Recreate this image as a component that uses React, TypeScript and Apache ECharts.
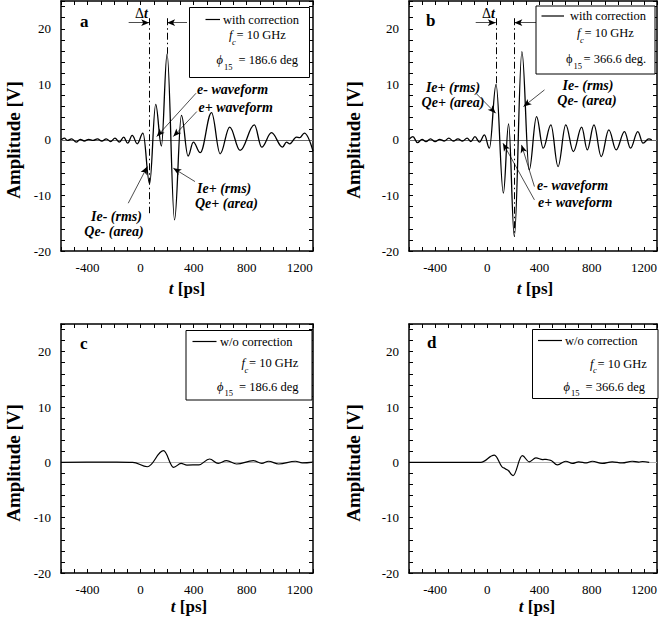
import React, { useEffect, useRef } from "react";
import * as echarts from "echarts";

const FONT = "Liberation Serif";

const xTickLabels = [-400, 0, 400, 800, 1200];
const yTickLabels = [-20, -10, 0, 10, 20];
const X_MIN = -600;
const X_MAX = 1300;
const X_STEP = 100;
const Y_MIN = -20;
const Y_MAX = 25;
const Y_STEP = 2;

// panel a: with correction, phi15 = 186.6 deg  [t (ps), amplitude (V)]
const waveA = [
  [-600, 0], [-575, 0.3], [-550, -0.1], [-520, 0.2], [-485, -0.4], [-455, 0.1], [-424, -0.2],
  [-391, 0.1], [-358, -0.1], [-325, 0.2], [-292, -0.2], [-259, 0.2], [-226, -0.3], [-193, 0.3],
  [-160, -0.4], [-127, 0.5], [-97, -0.6], [-63, 0.8], [-25, -0.7], [18, 1.2], [68, -7.9],
  [114, 6.4], [157, -1.1], [200, 15.5], [256, -14.4], [308, 4.4], [358, -2.9], [398, -0.4],
  [450, -2.3], [535, 4.9], [600, -2.5], [672, 2.3], [750, -1.9], [858, 2.7], [913, -1.3],
  [987, 1.3], [1070, -1.3], [1100, -0.4], [1125, -0.7], [1175, 0.5], [1200, 0.4], [1235, 1.2],
  [1300, -2.0],
];

// panel b: with correction, phi15 = 366.6 deg
const waveB = [
  [-600, 0.1], [-570, 0.6], [-535, -0.5], [-500, 0.1], [-470, -0.3], [-435, 0.2], [-400, -0.3],
  [-365, 0.1], [-330, -0.2], [-295, 0.3], [-260, -0.2], [-225, 0.2], [-190, -0.2], [-155, 0.3],
  [-125, -0.3], [-95, 0.6], [-60, -0.4], [-22, 0.9], [16, -1.5], [67, 10.0], [123, -9.6],
  [163, 2.9], [207, -17.4], [265, 15.9], [321, -5.4], [377, 4.2], [428, -1.5], [487, 2.7],
  [542, -4.8], [601, 2.7], [659, -2.1], [723, 2.3], [766, -1.8], [817, 2.7], [873, -3.0],
  [931, 1.8], [987, -1.8], [1051, 1.5], [1097, -1.5], [1153, 1.5], [1193, -0.6], [1237, 0.2],
  [1260, 0],
];

// panel c: w/o correction, phi15 = 186.6 deg
const waveC = [
  [-600, 0], [-300, 0.05], [-60, 0], [51, -0.8], [173, 2.1], [249, -0.9], [305, -0.2],
  [350, -0.5], [440, -0.45], [520, 0.6], [585, -0.2], [648, 0.3], [724, -0.3], [851, 0.3],
  [914, -0.2], [965, 0.2], [1041, -0.3], [1168, 0.2], [1219, -0.1], [1300, 0.05],
];

// panel d: w/o correction, phi15 = 366.6 deg
const waveD = [
  [-600, 0], [-300, 0], [-50, 0], [54, 1.3], [125, -1.0], [150, -1.3], [197, -2.4], [268, 1.2],
  [321, 0.1], [372, 0.8], [425, 0.5], [450, 0.55], [480, 0.4], [537, -0.45], [601, 0.2],
  [652, -0.2], [700, 0.1], [760, -0.1], [804, 0.2], [880, -0.2], [957, 0.1], [1033, -0.1],
  [1110, 0.2], [1160, 0.05], [1190, 0.15], [1240, 0],
];

// annotation arrows [t0, v0, t1, v1] (arrow head at t1,v1)
const arrowsA = [
  [-90, 21.1, 65, 21.1],
  [350, 21.1, 200, 21.1],
  [418, 8.4, 122, 0.6],
  [424, 5.1, 247, 0.6],
  [410, -7.5, 247, -5.1],
  [-93, -11.4, 51, -4.8],
];
const arrowsB = [
  [-89, 21.1, 65, 21.1],
  [374, 21.1, 207, 21.1],
  [-83, 8.3, 64, 4.8],
  [438, 9.0, 277, 6.0],
  [361, -8.4, 262, -0.9],
  [361, -10.8, 120, -0.6],
];
// dash-dot marker lines [t, vTop, vBottom]
const dashA = [[65, 21.9, -13.2], [200, 21.9, 15.5]];
const dashB = [[65, 21.9, 10.0], [207, 21.9, -17.4]];

const grids = [
  { left: 61, top: 1, width: 252, height: 250 },
  { left: 409, top: 1, width: 249, height: 250 },
  { left: 61, top: 324, width: 252, height: 249 },
  { left: 409, top: 324, width: 249, height: 249 },
];

function txt(x: number, y: number, text: string, o: any = {}) {
  return {
    type: "text",
    x,
    y,
    rotation: o.rotation || 0,
    silent: true,
    z: 10,
    style: {
      text,
      fontFamily: FONT,
      fontSize: o.size || 12.5,
      fontWeight: o.bold ? "bold" : "normal",
      fontStyle: o.italic ? "italic" : "normal",
      fill: "#000",
      align: o.align || "left",
      verticalAlign: "middle",
      rich: o.rich,
    },
  };
}

function legend(
  box: number[],
  line: number[],
  label: string,
  lbl: number[],
  f: number[],
  phi: number[],
  phiText: string,
  phiItalic: boolean
) {
  return [
    {
      type: "rect",
      shape: { x: box[0], y: box[1], width: box[2], height: box[3] },
      style: { fill: "#fff", stroke: "#000", lineWidth: 1 },
      silent: true,
      z: 9,
    },
    {
      type: "line",
      shape: { x1: line[0], y1: line[2], x2: line[1], y2: line[2] },
      style: { stroke: "#000", lineWidth: 1.2 },
      silent: true,
      z: 10,
    },
    txt(lbl[0], lbl[1], label),
    txt(f[0], f[1], "f", { italic: true }),
    txt(f[0] + 3, f[1] + 6.5, "c", { italic: true, size: 8.5 }),
    txt(f[0] + 7.5, f[1], "= 10 GHz"),
    txt(phi[0], phi[1], "\u03D5", { italic: phiItalic }),
    txt(phi[0] + 7.5, phi[1] + 6.5, "15", { size: 8.5 }),
    txt(phi[0] + (phiItalic ? 22 : 17.5), phi[1], phiText),
  ];
}

const richDelta = {
  d: { fontFamily: FONT, fontSize: 14, fontWeight: "normal" },
  t: { fontFamily: FONT, fontSize: 14, fontWeight: "bold", fontStyle: "italic" },
};
const richT = {
  i: { fontFamily: FONT, fontSize: 17, fontWeight: "bold", fontStyle: "italic" },
  n: { fontFamily: FONT, fontSize: 17, fontWeight: "bold" },
};
const ann = { bold: true, italic: true, size: 14 };
const ampOpts = { bold: true, size: 19, align: "center", rotation: Math.PI / 2 };

function App() {
  const ref = useRef<HTMLDivElement>(null);
  useEffect(() => {
    const chart = echarts.init(ref.current!, null, { renderer: "svg" });
    const xAxes: any[] = [];
    const yAxes: any[] = [];
    grids.forEach((_, i) => {
      ["bottom", "top"].forEach((pos) => {
        xAxes.push({
          type: "value",
          gridIndex: i,
          position: pos,
          min: X_MIN,
          max: X_MAX,
          interval: X_STEP,
          axisLine: { show: true, onZero: false, lineStyle: { color: "#000", width: 1.5 } },
          axisTick: { show: true, inside: true, length: 4, lineStyle: { color: "#000", width: 1 } },
          axisLabel: {
            show: pos === "bottom",
            formatter: (v: number) => (xTickLabels.includes(v) ? String(v) : ""),
            color: "#000",
            fontFamily: FONT,
            fontSize: 13,
            margin: 10,
          },
          splitLine: { show: false },
        });
      });
      ["left", "right"].forEach((pos) => {
        yAxes.push({
          type: "value",
          gridIndex: i,
          position: pos,
          min: Y_MIN,
          max: Y_MAX,
          interval: Y_STEP,
          axisLine: { show: true, onZero: false, lineStyle: { color: "#000", width: 1.5 } },
          axisTick: { show: true, inside: true, length: 4, lineStyle: { color: "#000", width: 1 } },
          axisLabel: {
            show: pos === "left",
            formatter: (v: number) => (yTickLabels.includes(v) ? String(v) : ""),
            color: "#000",
            fontFamily: FONT,
            fontSize: 13,
            margin: 10,
          },
          splitLine: { show: false },
        });
      });
    });

    const waves = [waveA, waveB, waveC, waveD];
    const arrows = [arrowsA, arrowsB, [], []];
    const dashes = [dashA, dashB, [], []];
    const zeroColors = ["#6a6a6a", "#6a6a6a", "#b0b0b0", "#b0b0b0"];

    const series = waves.map((w, i) => ({
      type: "line",
      xAxisIndex: 2 * i,
      yAxisIndex: 2 * i,
      data: w,
      showSymbol: false,
      symbol: "none",
      smooth: 0.38,
      smoothMonotone: "x",
      silent: true,
      z: 3,
      lineStyle: { color: "#000", width: i < 2 ? 1.3 : 1.2 },
      markLine: {
        silent: true,
        z: 1,
        symbol: ["none", "none"],
        label: { show: false },
        emphasis: { disabled: true },
        data: [
          { yAxis: 0, lineStyle: { color: zeroColors[i], width: 1, type: "solid" } },
          ...arrows[i].map((a) => [
            { coord: [a[0], a[1]], symbol: "none", lineStyle: { color: "#000", width: 0.7, type: "solid" } },
            { coord: [a[2], a[3]], symbol: "arrow", symbolSize: [5, 8] },
          ]),
          ...dashes[i].map((d) => [
            { coord: [d[0], d[1]], symbol: "none", lineStyle: { color: "#000", width: 1, type: [7, 3, 1.5, 3] } },
            { coord: [d[0], d[2]], symbol: "none" },
          ]),
        ],
      },
    }));

    const graphic: any[] = [
      // panel letters
      txt(80, 21, "a", { bold: true, size: 17 }),
      txt(426, 20, "b", { bold: true, size: 17 }),
      txt(80, 343, "c", { bold: true, size: 17 }),
      txt(427, 342, "d", { bold: true, size: 17 }),
      // axis titles
      txt(13, 140, "Amplitude [V]", ampOpts),
      txt(353, 140, "Amplitude [V]", ampOpts),
      txt(13, 463, "Amplitude [V]", ampOpts),
      txt(353, 463, "Amplitude [V]", ampOpts),
      txt(187, 288, "{i|t}{n| [ps]}", { align: "center", rich: richT }),
      txt(535, 288, "{i|t}{n| [ps]}", { align: "center", rich: richT }),
      txt(189, 606.5, "{i|t}{n| [ps]}", { align: "center", rich: richT }),
      txt(537, 606.5, "{i|t}{n| [ps]}", { align: "center", rich: richT }),
      // delta t labels
      txt(141.5, 13, "{d|\u0394}{t|t}", { align: "center", rich: richDelta }),
      txt(488.5, 13, "{d|\u0394}{t|t}", { align: "center", rich: richDelta }),
      // panel a annotations
      txt(197, 89.5, "e- waveform", ann),
      txt(198.5, 107.5, "e+ waveform", ann),
      txt(197, 188.5, "Ie+ (rms)", ann),
      txt(195, 203.5, "Qe+ (area)", ann),
      txt(116.5, 216.5, "Ie- (rms)", { ...ann, align: "center" }),
      txt(114, 231, "Qe- (area)", { ...ann, align: "center" }),
      // panel b annotations
      txt(453, 87, "Ie+ (rms)", { ...ann, align: "center" }),
      txt(453, 102, "Qe+ (area)", { ...ann, align: "center" }),
      txt(588, 85, "Ie- (rms)", { ...ann, align: "center" }),
      txt(587, 100, "Qe- (area)", { ...ann, align: "center" }),
      txt(537, 185, "e- waveform", ann),
      txt(538, 202, "e+ waveform", ann),
      // legends
      ...legend([189.5, 7.5, 120, 70], [205.5, 220, 19.5], "with correction", [223, 19.5], [229, 35], [216.5, 60], "= 186.6 deg", true),
      ...legend([536, 6, 119, 68], [541.5, 564, 16], "with correction", [570, 16], [577, 33], [566, 59], "= 366.6 deg.", false),
      ...legend([186, 330.5, 126, 69.5], [192.5, 216.5, 341.5], "w/o correction", [220, 341.5], [241.5, 363], [217, 386.5], "= 186.6 deg", true),
      ...legend([532.5, 329.5, 125.5, 69], [538, 562, 340.5], "w/o correction", [565, 340.5], [590, 363.5], [563.5, 386.5], "= 366.6 deg", true),
    ];

    chart.setOption({
      animation: false,
      backgroundColor: "#fff",
      grid: grids.map((g) => ({ ...g, containLabel: false, show: false })),
      xAxis: xAxes,
      yAxis: yAxes,
      series,
      graphic,
    });
    return () => chart.dispose();
  }, []);
  return (
    <div
      ref={ref}
      style={{ position: "absolute", left: 0, top: 0, width: 660, height: 619 }}
    />
  );
}

export default App;
